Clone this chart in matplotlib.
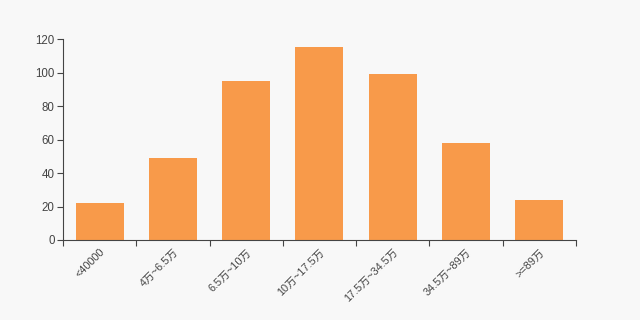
import matplotlib
matplotlib.use("Agg")
import matplotlib.pyplot as plt

plt.rcParams['font.family'] = ['Liberation Sans', 'Noto Sans CJK SC', 'DejaVu Sans']

categories = ["<40000", "4万~6.5万", "6.5万~10万", "10万~17.5万", "17.5万~34.5万", "34.5万~89万", ">=89万"]
values = [22, 49, 95, 115, 99, 58, 24]
yticks = [0, 20, 40, 60, 80, 100, 120]

bg = "#f8f8f8"
fig = plt.figure(figsize=(6.4, 3.2), dpi=100, facecolor=bg)
ax = fig.add_axes([0.0984, 0.25, 0.8016, 0.628], facecolor=bg)

x = list(range(len(categories)))
ax.bar(x, values, width=0.655, color="#f89a4a", zorder=2)

ax.set_xlim(-0.5, len(categories) - 0.5)
ax.set_ylim(0, 120)
ax.set_yticks(yticks)
ax.set_yticklabels([str(v) for v in yticks])

# category boundary ticks
ax.set_xticks([i - 0.5 for i in range(len(categories) + 1)])
ax.set_xticklabels([])
ax.set_xticks(x, minor=True)
ax.set_xticklabels(categories, minor=True, rotation=45, ha="right", va="top",
                   rotation_mode="anchor", fontsize=7.8, color="#444444")
ax.tick_params(axis="x", which="minor", length=0, pad=5)
ax.tick_params(axis="x", which="major", length=4, color="#444444", width=0.8)
ax.tick_params(axis="y", length=4, color="#444444", width=0.8, labelsize=8.3,
               labelcolor="#444444", pad=2)

for s in ["top", "right"]:
    ax.spines[s].set_visible(False)
for s in ["left", "bottom"]:
    ax.spines[s].set_color("#444444")
    ax.spines[s].set_linewidth(0.8)

fig.savefig("out.png", dpi=100, facecolor=bg)
